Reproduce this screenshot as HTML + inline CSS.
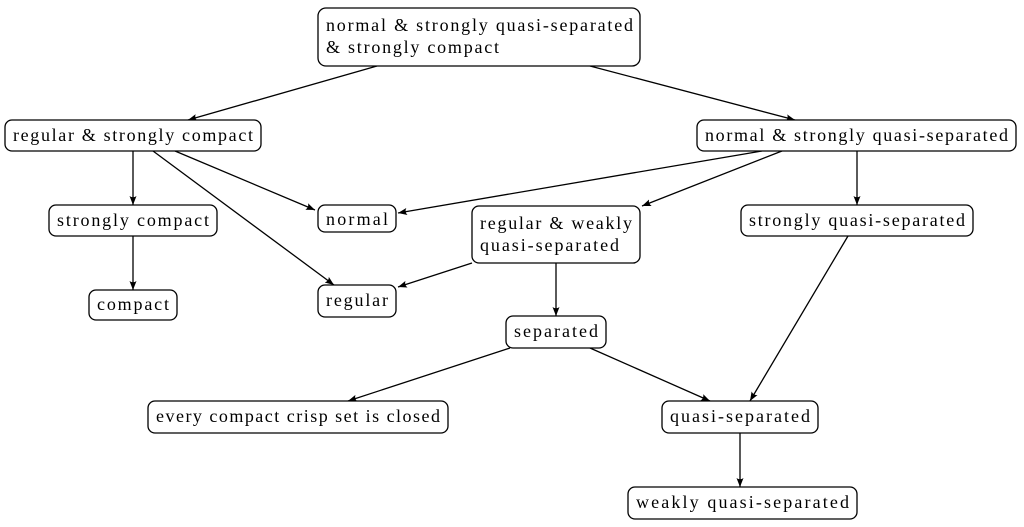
<!DOCTYPE html>
<html><head><style>
html,body{margin:0;padding:0;background:#fff;}
svg{display:block;}
text{font-family:"Liberation Serif",serif;font-size:18px;fill:#000;}
rect{fill:#fff;stroke:#000;stroke-width:1.3;}
line{stroke:#000;stroke-width:1.3;marker-end:url(#a);}
</style></head><body>
<svg width="1024" height="527" viewBox="0 0 1024 527">
<defs><marker id="a" markerWidth="10" markerHeight="8" refX="9" refY="4" orient="auto" markerUnits="userSpaceOnUse"><path d="M0,0.5 L9,4 L0,7.5 Q2.5,4 0,0.5z" fill="#000"/></marker></defs>
<line x1="377" y1="66" x2="188" y2="120"/>
<line x1="590" y1="66" x2="795" y2="120"/>
<line x1="133" y1="151" x2="133" y2="205"/>
<line x1="175" y1="151" x2="315" y2="210"/>
<line x1="153" y1="151" x2="334" y2="285"/>
<line x1="133" y1="236" x2="133" y2="290"/>
<line x1="762" y1="151" x2="398" y2="213"/>
<line x1="782" y1="151" x2="642" y2="206"/>
<line x1="857" y1="151" x2="857" y2="205"/>
<line x1="472" y1="263" x2="398" y2="287"/>
<line x1="556" y1="263" x2="556" y2="316"/>
<line x1="510" y1="348" x2="348" y2="401"/>
<line x1="590" y1="348" x2="710" y2="401"/>
<line x1="848" y1="236" x2="750" y2="401"/>
<line x1="740" y1="433" x2="740" y2="487"/>

<rect x="318" y="8" width="322" height="58" rx="8"/>
<text x="326" y="31" textLength="307">normal &amp; strongly quasi-separated</text>
<text x="326" y="53" textLength="173">&amp; strongly compact</text>

<rect x="5" y="120" width="256" height="31" rx="7"/>
<text x="13" y="141" textLength="240">regular &amp; strongly compact</text>

<rect x="697" y="120" width="319" height="31" rx="7"/>
<text x="705" y="141" textLength="303">normal &amp; strongly quasi-separated</text>

<rect x="49" y="205" width="168" height="31" rx="7"/>
<text x="57" y="226" textLength="152">strongly compact</text>

<rect x="318" y="205" width="78" height="27" rx="7"/>
<text x="326" y="225" textLength="62">normal</text>

<rect x="472" y="206" width="168" height="57" rx="7"/>
<text x="480" y="229" textLength="152">regular &amp; weakly</text>
<text x="480" y="251" textLength="139">quasi-separated</text>

<rect x="741" y="205" width="232" height="31" rx="7"/>
<text x="749" y="226" textLength="216">strongly quasi-separated</text>

<rect x="89" y="290" width="88" height="30" rx="7"/>
<text x="97" y="310" textLength="72">compact</text>

<rect x="318" y="285" width="78" height="32" rx="7"/>
<text x="326" y="306" textLength="62">regular</text>

<rect x="506" y="316" width="100" height="32" rx="7"/>
<text x="514" y="337" textLength="84">separated</text>

<rect x="148" y="401" width="300" height="32" rx="7"/>
<text x="156" y="422" textLength="284">every compact crisp set is closed</text>

<rect x="662" y="401" width="156" height="32" rx="7"/>
<text x="670" y="422" textLength="140">quasi-separated</text>

<rect x="628" y="487" width="229" height="32" rx="7"/>
<text x="636" y="508" textLength="213">weakly quasi-separated</text>
</svg>
</body></html>
